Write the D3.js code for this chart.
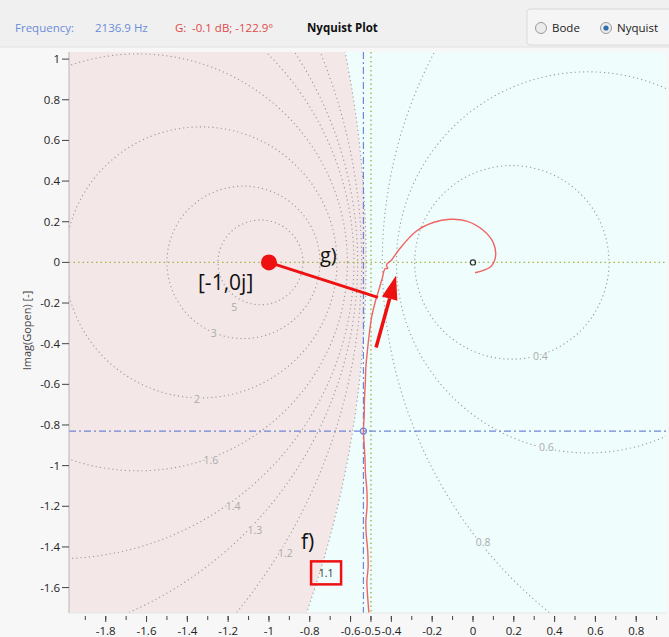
<!DOCTYPE html>
<html>
<head>
<meta charset="utf-8">
<script src="https://cdn.jsdelivr.net/npm/d3@7"></script>
<style>
  body { margin: 0; background: #f7f7f7; }
  svg { display: block; font-family: "Open Sans", sans-serif; }
</style>
</head>
<body>
<svg id="chart" width="669" height="637"></svg>
<script>
const width = 669;
const height = 637;

// readout
const freqText = '2136.9 Hz';
const gainText = '-0.1 dB; -122.9°';
const cursor = {re: -0.537, im: -0.830};

const locusRe = [-0.510, -0.518, -0.520, -0.514, -0.516, -0.524, -0.525, -0.519, -0.520, -0.527,
  -0.529, -0.533, -0.537, -0.533, -0.532, -0.528, -0.525, -0.518, -0.512, -0.497,
  -0.478, -0.462, -0.444, -0.431, -0.418, -0.424, -0.399, -0.360, -0.280, -0.195,
  -0.113, -0.031, 0.050, 0.100, 0.110, 0.085, 0.010];
const locusIm = [-1.725, -1.620, -1.567, -1.500, -1.419, -1.330, -1.271, -1.200, -1.123, -1.040,
  -0.975, -0.900, -0.830, -0.750, -0.680, -0.600, -0.517, -0.440, -0.384, -0.271,
  -0.190, -0.138, -0.075, -0.031, -0.030, -0.012, 0.012, 0.066, 0.152, 0.196,
  0.212, 0.203, 0.158, 0.096, 0.026, -0.023, -0.051];

// constant closed loop magnitude circles and where their labels sit
const mValues = [5, 3, 2, 1.6, 1.4, 1.3, 1.2, 1.1, 0.8, 0.6, 0.4];
const mLabelRe = [-1.17, -1.27, -1.353, -1.284, -1.176, -1.069, -0.92, -0.72, 0.05, 0.36, 0.33];
const mLabelIm = [-0.22, -0.345, -0.67, -0.97, -1.197, -1.315, -1.43, -1.53, -1.375, -0.91, -0.46];

const xTicks = [-1.8, -1.6, -1.4, -1.2, -1, -0.8, -0.6, -0.5, -0.4, -0.2, 0, 0.2, 0.4, 0.6, 0.8];
const xMinor = d3.range(-19, 10).map(d => d / 10);
const yTicks = [1, 0.8, 0.6, 0.4, 0.2, 0, -0.2, -0.4, -0.6, -0.8, -1, -1.2, -1.4, -1.6];

const plot = {left: 69, right: 666, top: 52, bottom: 613};

const x = d3.scaleLinear().domain([-1.98, 0.946]).range([plot.left, plot.right]);
const y = d3.scaleLinear().domain([1.035, -1.725]).range([plot.top, plot.bottom]);

const mCircle = m => {
  const c = m * m / (1 - m * m);
  const r = Math.abs(m / (1 - m * m));
  return {c, r};
};

const svg = d3.select('#chart');

// header
svg.append('rect').attr('width', width).attr('height', 47).attr('fill', '#f0f0f0');
svg.append('line').attr('x1', 0).attr('x2', width).attr('y1', 47).attr('y2', 47)
  .attr('stroke', '#e2e2e2');

const header = svg.append('g').attr('font-size', 11.5);
header.append('text').attr('x', 15).attr('y', 32).attr('fill', '#6b8cd8').text('Frequency:');
header.append('text').attr('x', 95).attr('y', 32).attr('fill', '#6b8cd8').text(freqText);
header.append('text').attr('x', 175).attr('y', 32).attr('fill', '#e04848').text('G:');
header.append('text').attr('x', 192).attr('y', 32).attr('fill', '#e04848').text(gainText);
header.append('text').attr('x', 307).attr('y', 32).attr('fill', '#111')
  .attr('font-weight', 'bold').text('Nyquist Plot');

const radio = svg.append('g');
radio.append('rect').attr('x', 527).attr('y', 9).attr('width', 150).attr('height', 36)
  .attr('rx', 3).attr('fill', '#f5f5f5').attr('stroke', '#d9d9d9');
[{label: 'Bode', cx: 541, on: false}, {label: 'Nyquist', cx: 606, on: true}].forEach(o => {
  radio.append('circle').attr('cx', o.cx).attr('cy', 28).attr('r', 5.5)
    .attr('fill', '#ececec').attr('stroke', '#9a9a9a');
  if (o.on) radio.append('circle').attr('cx', o.cx).attr('cy', 28).attr('r', 2.6).attr('fill', '#2f6fb0');
  radio.append('text').attr('x', o.cx + 11).attr('y', 32).attr('font-size', 11.5)
    .attr('fill', '#222').text(o.label);
});

// plot area
svg.append('clipPath').attr('id', 'clip').append('rect')
  .attr('x', plot.left).attr('y', plot.top)
  .attr('width', plot.right - plot.left).attr('height', plot.bottom - plot.top);

const area = svg.append('g').attr('clip-path', 'url(#clip)');
area.append('rect').attr('x', plot.left).attr('y', plot.top)
  .attr('width', plot.right - plot.left).attr('height', plot.bottom - plot.top)
  .attr('fill', '#effdfd');

// region where |T| > 1.1
const inner = mCircle(1.1);
area.append('ellipse')
  .attr('cx', x(inner.c)).attr('cy', y(0))
  .attr('rx', x(inner.c + inner.r) - x(inner.c))
  .attr('ry', y(-inner.r) - y(0))
  .attr('fill', '#f3e7e7');

area.selectAll('.mcircle').data(mValues).enter()
  .append('ellipse')
  .attr('class', 'mcircle')
  .attr('cx', m => x(mCircle(m).c)).attr('cy', y(0))
  .attr('rx', m => x(mCircle(m).c + mCircle(m).r) - x(mCircle(m).c))
  .attr('ry', m => y(-mCircle(m).r) - y(0))
  .attr('fill', 'none').attr('stroke', '#9c9c9c').attr('stroke-width', 1.1)
  .attr('stroke-dasharray', '1.2,3');

// reference lines
area.append('line').attr('x1', plot.left).attr('x2', plot.right).attr('y1', y(0)).attr('y2', y(0))
  .attr('stroke', '#a6b347').attr('stroke-width', 1.4).attr('stroke-dasharray', '1.5,3');
area.append('line').attr('x1', x(-0.5)).attr('x2', x(-0.5)).attr('y1', plot.top).attr('y2', plot.bottom)
  .attr('stroke', '#a6b347').attr('stroke-width', 1.4).attr('stroke-dasharray', '1.5,3');

// labels of the circles
area.selectAll('.mlabel').data(mValues).enter()
  .append('text')
  .attr('class', 'mlabel')
  .attr('x', (m, i) => x(mLabelRe[i]))
  .attr('y', (m, i) => y(mLabelIm[i]) + 4)
  .attr('text-anchor', 'middle')
  .attr('font-size', 10.5)
  .attr('fill', m => m === 1.1 ? '#333' : '#ababab')
  .attr('stroke', m => m === 1.1 ? 'none' : (m > 1.1 ? '#f3e7e7' : '#effdfd'))
  .attr('stroke-width', 3)
  .attr('paint-order', 'stroke')
  .text(m => m);

// cursor crosshair
area.append('line').attr('x1', x(cursor.re)).attr('x2', x(cursor.re)).attr('y1', plot.top).attr('y2', plot.bottom)
  .attr('stroke', '#6f86d8').attr('stroke-width', 1.2).attr('stroke-dasharray', '7,3,2,3');
area.append('line').attr('x1', plot.left).attr('x2', plot.right).attr('y1', y(cursor.im)).attr('y2', y(cursor.im))
  .attr('stroke', '#6f86d8').attr('stroke-width', 1.2).attr('stroke-dasharray', '7,3,2,3');

// locus
const locus = d3.zip(locusRe, locusIm);
area.append('path')
  .datum(locus)
  .attr('d', d3.line().x(d => x(d[0])).y(d => y(d[1])).curve(d3.curveCatmullRom))
  .attr('fill', 'none').attr('stroke', '#f06464').attr('stroke-width', 1.4);

area.append('circle').attr('cx', x(cursor.re)).attr('cy', y(cursor.im)).attr('r', 3)
  .attr('fill', 'none').attr('stroke', '#6f86d8').attr('stroke-width', 1.2);
area.append('circle').attr('cx', x(0)).attr('cy', y(0)).attr('r', 2.6)
  .attr('fill', 'none').attr('stroke', '#333').attr('stroke-width', 1.2);

// axes
svg.append('line').attr('x1', plot.left).attr('x2', plot.left).attr('y1', plot.top).attr('y2', plot.bottom)
  .attr('stroke', '#b5b5b5');
svg.append('line').attr('x1', plot.left).attr('x2', plot.right).attr('y1', plot.bottom).attr('y2', plot.bottom)
  .attr('stroke', '#e6e6e6');

const yAxis = svg.append('g').attr('font-size', 11.5);
yTicks.forEach(v => {
  yAxis.append('line').attr('x1', plot.left - 7).attr('x2', plot.left).attr('y1', y(v)).attr('y2', y(v))
    .attr('stroke', '#444');
  yAxis.append('text').attr('x', plot.left - 9).attr('y', y(v) + 4).attr('text-anchor', 'end')
    .attr('fill', '#222').text(v);
});

const xAxis = svg.append('g').attr('font-size', 11.5);
xMinor.forEach(v => {
  xAxis.append('line').attr('x1', x(v)).attr('x2', x(v)).attr('y1', plot.bottom + 3).attr('y2', plot.bottom + 7)
    .attr('stroke', '#444');
});
xTicks.forEach(v => {
  xAxis.append('line').attr('x1', x(v)).attr('x2', x(v)).attr('y1', plot.bottom + 3).attr('y2', plot.bottom + 9)
    .attr('stroke', '#444');
  xAxis.append('text').attr('x', x(v)).attr('y', plot.bottom + 22).attr('text-anchor', 'middle')
    .attr('fill', '#222').text(v);
});

svg.append('text')
  .attr('transform', `translate(31,${(plot.top + plot.bottom) / 2 - 2}) rotate(-90)`)
  .attr('text-anchor', 'middle').attr('font-size', 11).attr('fill', '#444')
  .text('Imag(Gopen) [-]');

// annotations
const note = svg.append('g');
note.append('line').attr('x1', x(-1)).attr('y1', y(0)).attr('x2', x(-0.466)).attr('y2', y(-0.172))
  .attr('stroke', '#ee1111').attr('stroke-width', 3);
note.append('circle').attr('cx', x(-1)).attr('cy', y(0)).attr('r', 8).attr('fill', '#ee1111');

const a0 = [x(-0.475), y(-0.419)];
const a1 = [x(-0.377), y(-0.064)];
const ang = Math.atan2(a1[1] - a0[1], a1[0] - a0[0]);
const headLen = 24, headW = 8;
const base = [a1[0] - headLen * Math.cos(ang), a1[1] - headLen * Math.sin(ang)];
note.append('line').attr('x1', a0[0]).attr('y1', a0[1]).attr('x2', base[0]).attr('y2', base[1])
  .attr('stroke', '#ee1111').attr('stroke-width', 3.5);
note.append('path')
  .attr('d', `M${a1[0]},${a1[1]}L${base[0] - headW * Math.sin(ang)},${base[1] + headW * Math.cos(ang)}L${base[0] + headW * Math.sin(ang)},${base[1] - headW * Math.cos(ang)}Z`)
  .attr('fill', '#ee1111');

note.append('text').attr('x', 198).attr('y', 290).attr('font-size', 21).attr('fill', '#111').text('[-1,0j]');
note.append('text').attr('x', 320).attr('y', 262).attr('font-size', 20).attr('fill', '#111').text('g)');
note.append('text').attr('x', 301).attr('y', 549).attr('font-size', 21).attr('fill', '#111').text('f)');

const l11 = mValues.indexOf(1.1);
note.append('rect').attr('x', x(mLabelRe[l11]) - 15).attr('y', y(mLabelIm[l11]) - 12)
  .attr('width', 30).attr('height', 23)
  .attr('fill', 'none').attr('stroke', '#ee1111').attr('stroke-width', 2.5);
</script>
</body>
</html>
